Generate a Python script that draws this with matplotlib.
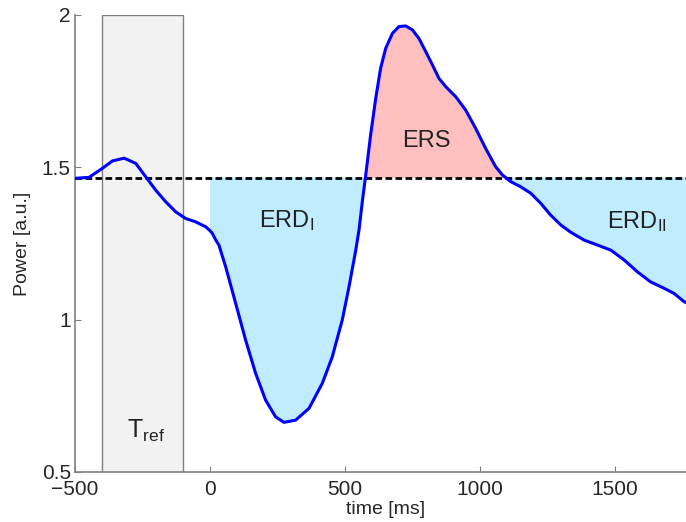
import numpy as np
import matplotlib
matplotlib.use("Agg")
import matplotlib.pyplot as plt
from matplotlib.patches import Rectangle

plt.rcParams["font.family"] = ["Liberation Sans", "DejaVu Sans"]
plt.rcParams["mathtext.fontset"] = "custom"
plt.rcParams["mathtext.rm"] = "Liberation Sans"
plt.rcParams["mathtext.it"] = "Liberation Sans"

# power curve (time in ms, power in a.u.)
time_ms = [-500, -448, -398, -361, -318, -275, -238, -201, -164, -127, -90, -53, -16,
           0, 9, 21, 33, 58, 95, 132, 169, 206, 243, 274, 317, 367, 416, 453,
           490, 515, 540, 552, 565, 577, 595, 614, 632, 651, 676, 700, 725, 750,
           774, 799, 824, 848, 873, 910, 947, 984, 1021, 1058, 1083, 1114, 1151,
           1188, 1225, 1262, 1299, 1336, 1386, 1435, 1485, 1534, 1583, 1632, 1682,
           1719, 1756, 1800]
power = [1.464, 1.467, 1.497, 1.521, 1.530, 1.513, 1.469, 1.425, 1.387, 1.354, 1.332,
         1.321, 1.305, 1.292, 1.283, 1.262, 1.245, 1.174, 1.054, 0.933, 0.824,
         0.736, 0.681, 0.663, 0.670, 0.709, 0.791, 0.878, 0.999, 1.108, 1.228, 1.294,
         1.393, 1.475, 1.606, 1.727, 1.825, 1.891, 1.940, 1.962, 1.964, 1.951, 1.923,
         1.880, 1.836, 1.792, 1.765, 1.732, 1.688, 1.628, 1.562, 1.502, 1.475, 1.453,
         1.436, 1.415, 1.382, 1.343, 1.311, 1.287, 1.261, 1.245, 1.228, 1.196, 1.157,
         1.124, 1.103, 1.086, 1.059, 1.040]

reference_level = 1.466
ref_window = (-400, -100)
event_start = 0

x_ticks = [-500, 0, 500, 1000, 1500]
y_ticks = [0.5, 1, 1.5, 2]
y_tick_labels = ["0.5", "1", "1.5", "2"]

t = np.array(time_ms, dtype=float)
p = np.array(power, dtype=float)

fig = plt.figure(figsize=(6.86, 5.22), dpi=100)
ax = fig.add_axes([0.1093, 0.0958, 0.9052, 0.8755])

ax.add_patch(Rectangle((ref_window[0], 0.5), ref_window[1] - ref_window[0], 1.5,
                       facecolor="#f2f2f2", edgecolor="#7f7f7f", linewidth=1.0, zorder=1))

# shading only after stimulus onset
after = t >= event_start
ta, pa = t[after], p[after]
ax.fill_between(ta, pa, reference_level, where=pa <= reference_level,
                interpolate=True, facecolor="#bfecfe", edgecolor="none", zorder=2)
ax.fill_between(ta, pa, reference_level, where=pa >= reference_level,
                interpolate=True, facecolor="#ffbfbf", edgecolor="none", zorder=2)

ax.axhline(reference_level, color="black", linewidth=2.0, dashes=(2.4, 1.2), zorder=3)
ax.plot(t, p, color="#0000ff", linewidth=2.2, solid_joinstyle="round",
        solid_capstyle="round", zorder=4)

ax.text(800, 1.567, "ERS", fontsize=17, ha="center", va="baseline", color="#222222", zorder=5)
ax.text(285, 1.305, r"ERD$_{\mathrm{I}}$", fontsize=17, ha="center", va="baseline",
        color="#222222", zorder=5)
ax.text(1580, 1.30, r"ERD$_{\mathrm{II}}$", fontsize=17, ha="center", va="baseline",
        color="#222222", zorder=5)
ax.text(-237, 0.613, r"T$_{\mathrm{ref}}$", fontsize=18, ha="center", va="baseline",
        color="#222222", zorder=5)

ax.set_xlim(-500, 1800)
ax.set_ylim(0.5, 2)
ax.set_xticks(x_ticks)
ax.set_yticks(y_ticks)
ax.set_yticklabels(y_tick_labels)

for side in ["top", "right"]:
    ax.spines[side].set_visible(False)
for side in ["left", "bottom"]:
    ax.spines[side].set_color("#808080")
    ax.spines[side].set_linewidth(1.2)

ax.tick_params(direction="in", length=4, width=0.8, color="#808080",
               labelsize=15, labelcolor="#262626")
ax.tick_params(axis="x", pad=6)
ax.tick_params(axis="y", pad=3)

ax.set_xlabel("time [ms]", fontsize=14, color="#262626", labelpad=1)
ax.set_ylabel("Power [a.u.]", fontsize=14, color="#262626", labelpad=8)

fig.savefig("out.png", dpi=100)
